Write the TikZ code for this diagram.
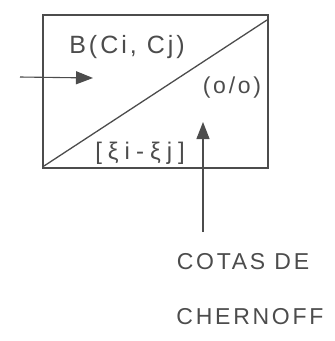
\documentclass[tikz,border=0pt]{standalone}
\usepackage{fontspec}
\setmainfont{Liberation Sans}
\newfontfamily\hand[LetterSpace=12]{Liberation Sans}
\newfontfamily\handwide[LetterSpace=25]{Liberation Sans}
\usepackage{tikz}
\usetikzlibrary{arrows.meta}

\begin{document}
\begin{tikzpicture}[
  x=1pt,y=-1pt,
  ln/.style={draw=black!70,line width=1.3pt},
  t/.style={text=black!70,inner sep=0pt,font=\hand\fontsize{23}{26}\selectfont},
  a/.style={-{Triangle[length=17pt,width=13pt]},draw=black!70,fill=black!70,line width=1.1pt}
]
\useasboundingbox (0,0) rectangle (335,341);
% box and diagonal
\coordinate (bl) at (44,166);
\coordinate (tr) at (267,20);
\draw[ln] (43,15) rectangle (268,168);
\draw[ln] (bl) -- (tr);
% labels
\node[t,font=\hand\fontsize{25}{28}\selectfont] (bc) at (127,47) {B(Ci, Cj)};
\node[t] (oo) at (232,88) {(o/o)};
\node[t,font=\handwide\fontsize{24}{27}\selectfont] (xi) at (140,153) {[ξi-ξj]};
\node[t] (cd) at (243,262) {COTAS DE};
\node[t] (ch) at (250,317) {CHERNOFF};
% arrows
\coordinate (in) at (20,77);
\coordinate (ie) at (93,78);
\coordinate (cb) at (203,232);
\coordinate (ce) at (203,122);
\draw[a] (in) -- (ie);
\draw[a] (cb) -- (ce);
\end{tikzpicture}
\end{document}
